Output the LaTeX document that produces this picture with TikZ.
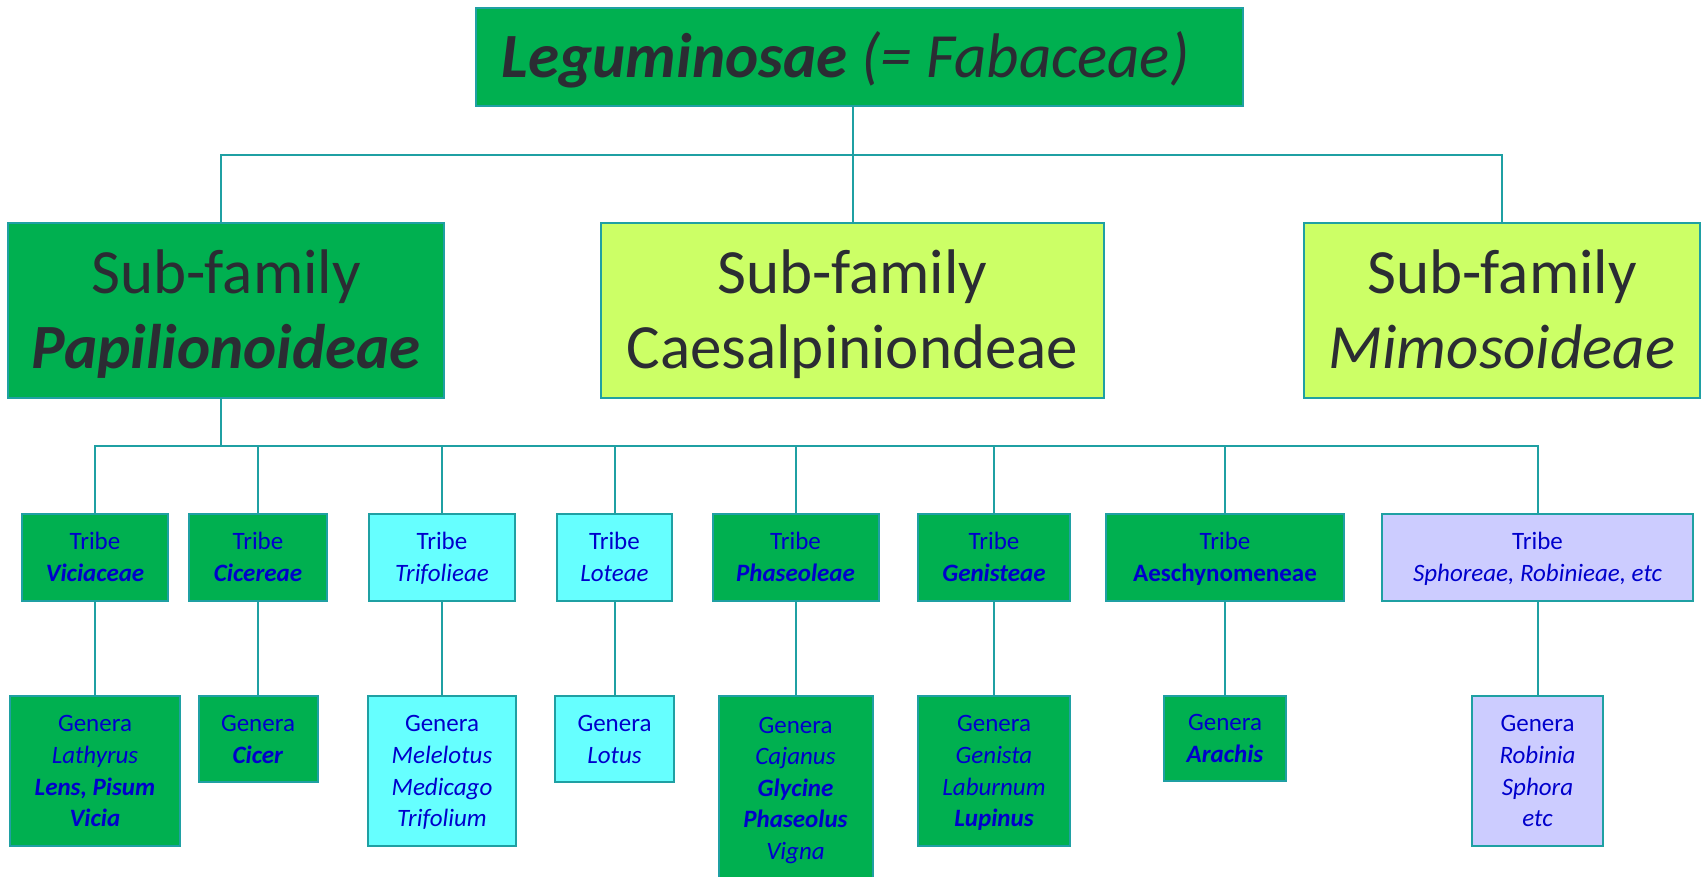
\documentclass[tikz,border=0pt]{standalone}
\usepackage{fontspec}
\setmainfont{Carlito}
\definecolor{dgreen}{HTML}{00B050}
\definecolor{lgreen}{HTML}{CCFF66}
\definecolor{lcyan}{HTML}{66FFFF}
\definecolor{lav}{HTML}{CCCCFF}
\definecolor{edge}{HTML}{1FA0A3}
\definecolor{dtext}{HTML}{2B2C33}
\definecolor{btext}{HTML}{0000CC}
\newcommand\bi[1]{\textbf{\textit{#1}}}
\newcommand\tp{\rule{0pt}{0.96em}}
\newcommand\bt{\rule[-0.3em]{0pt}{0.3em}}
\begin{document}
\begin{tikzpicture}[x=0.5pt,y=-0.5pt,
  box/.style={draw=edge,line width=1pt,inner sep=0pt,align=center},
  bigbox/.style={box,text=dtext,font=\fontsize{31.5}{37.5}\selectfont},
  smallbox/.style={box,text=btext,font=\fontsize{12.5}{15.8}\selectfont},
  conn/.style={draw=edge,line width=1pt},
  bw/.style={minimum width=#1*0.5pt},
  bh/.style={minimum height=#1*0.5pt}]
\useasboundingbox (0,0) rectangle (1704,877);
% top
\node[bigbox,fill=dgreen,bw=767,bh=98] (top) at (859.5,57) {\tp\bi{Leguminosae} \textit{(= Fabaceae)}\bt\hspace*{14pt}};
% sub-families
\node[bigbox,fill=dgreen,bw=436,bh=175] (pap) at (226,310.5) {\tp Sub-family\\\bi{Papilionoideae}\bt};
\node[bigbox,fill=lgreen,bw=503,bh=175] (caes) at (852.5,310.5) {\tp Sub-family\\Caesalpiniondeae\bt};
\node[bigbox,fill=lgreen,bw=396,bh=175] (mimo) at (1502,310.5) {\tp Sub-family\\\textit{Mimosoideae}\bt};
\coordinate (bus1) at (0,155);
\coordinate (bus2) at (0,446);
\coordinate (papx) at (221,0);
% tribes
\node[smallbox,fill=dgreen,bw=146,bh=87] (t1) at (95,557.5) {\tp Tribe\\\bi{Viciaceae}\bt};
\node[smallbox,fill=dgreen,bw=138,bh=87] (t2) at (258,557.5) {\tp Tribe\\\bi{Cicereae}\bt};
\node[smallbox,fill=lcyan,bw=146,bh=87] (t3) at (442,557.5) {\tp Tribe\\\textit{Trifolieae}\bt};
\node[smallbox,fill=lcyan,bw=115,bh=87] (t4) at (614.5,557.5) {\tp Tribe\\\textit{Loteae}\bt};
\node[smallbox,fill=dgreen,bw=166,bh=87] (t5) at (795.5,557.5) {\tp Tribe\\\bi{Phaseoleae}\bt};
\node[smallbox,fill=dgreen,bw=152,bh=87] (t6) at (994,557.5) {\tp Tribe\\\bi{Genisteae}\bt};
\node[smallbox,fill=dgreen,bw=238,bh=87] (t7) at (1225,557.5) {\tp Tribe\\\textbf{Aeschynomeneae}\bt};
\node[smallbox,fill=lav,bw=311,bh=87] (t8) at (1537.5,557.5) {\tp Tribe\\\textit{Sphoreae, Robinieae, etc}\bt};
% genera
\node[smallbox,fill=dgreen,bw=170,bh=150] (g1) at (95,771) {\tp Genera\\\textit{Lathyrus}\\\bi{Lens, Pisum}\\\bi{Vicia}\bt};
\node[smallbox,fill=dgreen,bw=119,bh=86] (g2) at (258,739) {\tp Genera\\\bi{Cicer}\bt};
\node[smallbox,fill=lcyan,bw=148,bh=150] (g3) at (442,771) {\tp Genera\\\textit{Melelotus}\\\textit{Medicago}\\\textit{Trifolium}\bt};
\node[smallbox,fill=lcyan,bw=119,bh=86] (g4) at (614.5,739) {\tp Genera\\\textit{Lotus}\bt};
\node[smallbox,fill=dgreen,bw=154,bh=184] (g5) at (795.5,788) {\tp Genera\\\textit{Cajanus}\\\bi{Glycine}\\\bi{Phaseolus}\\\textit{Vigna}\bt};
\node[smallbox,fill=dgreen,bw=152,bh=150] (g6) at (994,771) {\tp Genera\\\textit{Genista}\\\textit{Laburnum}\\\bi{Lupinus}\bt};
\node[smallbox,fill=dgreen,bw=122,bh=85] (g7) at (1225,738.5) {\tp Genera\\\bi{Arachis}\bt};
\node[smallbox,fill=lav,bw=131,bh=150] (g8) at (1537.5,771) {\tp Genera\\\textit{Robinia}\\\textit{Sphora}\\\textit{etc}\bt};
% connectors
\draw[conn] (top.south -| caes.north) -- (caes.north);
\draw[conn] (pap.north -| papx) -- (bus1 -| papx) -- (bus1 -| mimo.north) -- (mimo.north);
\draw[conn] (pap.south -| papx) -- (bus2 -| papx);
\draw[conn] (t1.north) -- (bus2 -| t1.north) -- (bus2 -| t8.north) -- (t8.north);
\foreach \t in {t2,t3,t4,t5,t6,t7}{\draw[conn] (\t.north) -- (bus2 -| \t.north);}
\foreach \i in {1,...,8}{\draw[conn] (t\i.south) -- (g\i.north);}
\end{tikzpicture}
\end{document}
